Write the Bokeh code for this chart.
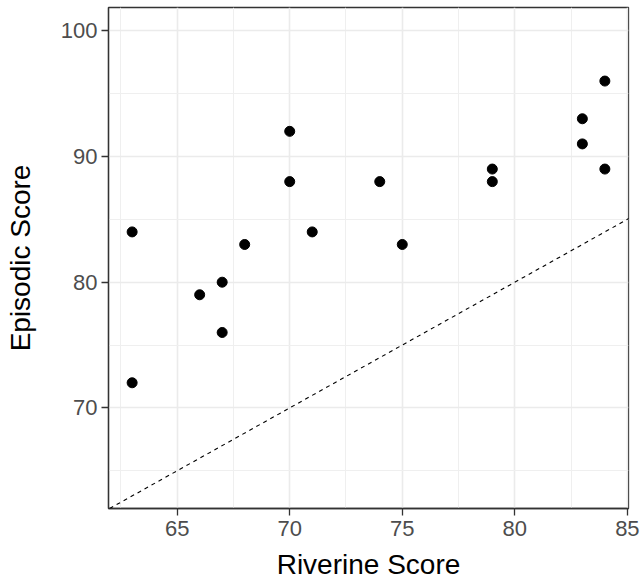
from bokeh.plotting import figure
from bokeh.embed import file_html
from bokeh.resources import INLINE
from bokeh.models import Range1d, FixedTicker, Slope

riverine = [63, 63, 66, 67, 67, 68, 70, 70, 71, 74, 75, 79, 79, 83, 83, 84, 84]
episodic = [84, 72, 79, 80, 76, 83, 92, 88, 84, 88, 83, 89, 88, 93, 91, 96, 89]

x_ticks = [65, 70, 75, 80, 85]
y_ticks = [70, 80, 90, 100]
x_minor = [62.5, 67.5, 72.5, 77.5, 82.5]
y_minor = [65, 75, 85, 95]

p = figure(frame_width=520, frame_height=501,
           min_border_left=108, min_border_right=14, min_border_top=7, min_border_bottom=75,
           x_range=Range1d(61.95, 85.05), y_range=Range1d(62.0, 101.85),
           output_backend="svg", toolbar_location=None)

p.background_fill_color = "white"
p.border_fill_color = "white"
p.outline_line_color = "#333333"
p.outline_line_width = 1.3

for ax in (p.xaxis, p.yaxis):
    ax.axis_line_color = "#333333"
    ax.axis_line_width = 1.3
    ax.major_tick_line_color = "#333333"
    ax.major_tick_line_width = 1.3
    ax.major_tick_in = 0
    ax.major_tick_out = 7
    ax.minor_tick_line_color = None
    ax.major_label_text_color = "#4D4D4D"
    ax.major_label_text_font = "Liberation Sans"
    ax.major_label_text_font_size = "22px"
    ax.axis_label_text_font = "Liberation Sans"
    ax.axis_label_text_font_size = "28px"
    ax.axis_label_text_font_style = "normal"
    ax.axis_label_text_color = "black"

p.xaxis.major_label_standoff = 5
p.yaxis.major_label_standoff = 4
p.xaxis.ticker = FixedTicker(ticks=x_ticks, minor_ticks=x_minor)
p.yaxis.ticker = FixedTicker(ticks=y_ticks, minor_ticks=y_minor)
p.xaxis.axis_label = "Riverine Score"
p.yaxis.axis_label = "Episodic Score"
p.xaxis.axis_label_standoff = 10
p.yaxis.axis_label_standoff = 22

p.xgrid.grid_line_color = "#EBEBEB"
p.ygrid.grid_line_color = "#EBEBEB"
p.xgrid.grid_line_width = 1.6
p.ygrid.grid_line_width = 1.6
p.xgrid.minor_grid_line_color = "#EFEFEF"
p.ygrid.minor_grid_line_color = "#EFEFEF"
p.xgrid.minor_grid_line_width = 1.0
p.ygrid.minor_grid_line_width = 1.0

p.add_layout(Slope(gradient=1, y_intercept=0, line_color="black", line_dash="4 4", line_width=1.1))

p.scatter(riverine, episodic, size=10, color="black")

open("out.html", "w").write(file_html(p, INLINE))
